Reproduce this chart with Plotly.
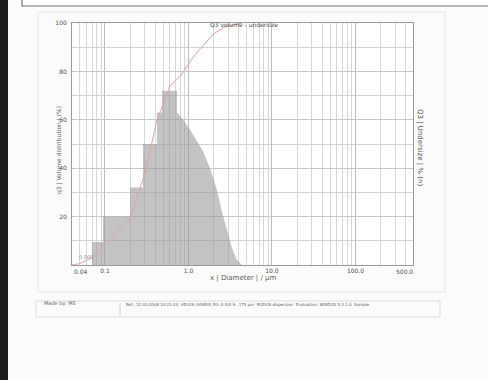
import plotly.graph_objects as go

# ---------------- data ----------------
# density distribution q3 (staircase part): bin edges (µm) and heights (%)
step_edges = [0.0698, 0.0946, 0.1995, 0.285, 0.420, 0.482, 0.728]
step_q3 = [9.5, 20, 32, 50, 63, 72]
# descending flank of the distribution
flank_x = [0.728, 0.859, 1.042, 1.230, 1.492, 1.809, 2.194, 2.519, 2.892, 3.319, 3.809, 4.372]
flank_q3 = [63, 60, 56, 52, 47, 40, 31, 22, 14, 7, 2, 0]
# cumulative undersize Q3
cum_x = [0.04, 0.049, 0.0698, 0.0946, 0.1995, 0.302, 0.42, 0.603, 0.794, 1.202, 1.99, 2.75, 4.37]
cum_Q3 = [0, 0.5, 3, 8, 19, 38, 60, 74, 78, 87, 95.5, 98.5, 100]

x_tickvals = [0.1, 1, 10, 100]
x_ticktext = ["0.1", "1.0", "10.0", "100.0"]
y_tickvals = [0, 20, 40, 60, 80, 100]
y_ticktext = ["", "20", "40", "60", "80", "100"]

# ---------------- layout geometry ----------------
W, H = 488, 380
L, R, T, B = 72, 413, 23, 265


def px(xp):
    return (xp - L) / (R - L)


def py(yp):
    return (B - yp) / (B - T)


fig = go.Figure()

sx = step_edges
sy = step_q3 + [step_q3[-1]]
fig.add_trace(go.Scatter(x=sx, y=sy, mode="lines", line=dict(shape="hv", width=0, color="rgba(0,0,0,0)"),
                         fill="tozeroy", fillcolor="rgba(155,155,155,0.6)", hoverinfo="skip", showlegend=False))
fig.add_trace(go.Scatter(x=flank_x, y=flank_q3, mode="lines", line=dict(width=0, color="rgba(0,0,0,0)"),
                         fill="tozeroy", fillcolor="rgba(155,155,155,0.6)", hoverinfo="skip", showlegend=False))
fig.add_trace(go.Scatter(x=cum_x, y=cum_Q3, mode="lines", line=dict(color="#e3a2a2", width=1),
                         hoverinfo="skip", showlegend=False))

font_small = dict(family="DejaVu Sans", size=6, color="#505050")

fig.update_layout(
    width=W, height=H,
    margin=dict(l=L, r=W - R, t=T, b=H - B, pad=0),
    paper_bgcolor="#fbfbfb", plot_bgcolor="#ffffff",
    xaxis=dict(type="log", range=[-1.395, 2.689], tickvals=x_tickvals, ticktext=x_ticktext,
               showgrid=True, gridcolor="#bdbdbd", gridwidth=1,
               minor=dict(dtick="D1", showgrid=True, gridcolor="#d6d6d6", gridwidth=1),
               tickfont=font_small, ticks="", ticklabelstandoff=0,
               showline=True, linecolor="#9a9a9a", mirror=True, zeroline=False),
    yaxis=dict(range=[0, 100], tickvals=y_tickvals, ticktext=y_ticktext,
               showgrid=True, gridcolor="#c6c6c6", gridwidth=1,
               minor=dict(dtick=10, showgrid=True, gridcolor="#d2d2d2", gridwidth=1),
               tickfont=font_small, ticks="", ticklabelstandoff=3,
               showline=True, linecolor="#9a9a9a", mirror=True, zeroline=False),
)

annotations = [
    dict(x=px(244), y=py(19), text="Q3 volume - undersize", showarrow=False,
         font=dict(family="DejaVu Sans", size=6, color="#505050")),
    dict(x=px(243), y=py(284), text="x | Diameter | / µm", showarrow=False,
         font=dict(family="DejaVu Sans", size=7, color="#606060")),
    dict(x=px(53), y=py(150), text="q3 | Volume distribution | (%)", textangle=-90, showarrow=False,
         font=dict(family="DejaVu Sans", size=6, color="#606060")),
    dict(x=px(426), y=py(147), text="Q3 | Undersize | % (n)", textangle=90, showarrow=False,
         font=dict(family="DejaVu Sans", size=7, color="#505050")),
    dict(x=px(72), y=py(277), text="0.04", showarrow=False, font=font_small),
    dict(x=px(415), y=py(277), text="500.0", showarrow=False, font=font_small),
    dict(x=px(77), y=py(262), text="0.000", showarrow=False, font=dict(family="DejaVu Sans", size=5, color="#8a8a8a")),
    dict(x=px(42), y=py(309), text="Made by: MS", showarrow=False, xanchor="left",
         font=dict(family="DejaVu Sans", size=5, color="#606060")),
    dict(x=px(124), y=py(309),
         text="Ref.: 12.03.2008 10:21:44  HELOS (H0853) R3: 0.5/0.9...175 µm  RODOS dispersion  Evaluation: WINDOX 5.3.1.0  Sample",
         showarrow=False, xanchor="left", font=dict(family="DejaVu Sans", size=4, color="#606060")),
]
for a in annotations:
    a.update(xref="paper", yref="paper")
fig.update_layout(annotations=annotations)

shapes = [
    dict(type="rect", x0=px(0), x1=px(8), y0=py(0), y1=py(380), fillcolor="#1e1e1e",
         line=dict(width=0), layer="above"),
    dict(type="rect", x0=px(22), x1=px(495), y0=py(-10), y1=py(6), fillcolor="#ffffff",
         line=dict(color="#6e6e6e", width=1.2), layer="below"),
    dict(type="rect", x0=px(38), x1=px(445), y0=py(12), y1=py(292), fillcolor="rgba(0,0,0,0)",
         line=dict(color="#e6e6e6", width=1), layer="below"),
    dict(type="rect", x0=px(36), x1=px(440), y0=py(301), y1=py(317), fillcolor="rgba(0,0,0,0)",
         line=dict(color="#dddddd", width=1), layer="below"),
    dict(type="line", x0=px(120), x1=px(120), y0=py(303), y1=py(315),
         line=dict(color="#d0d0d0", width=1), layer="below"),
]
for s in shapes:
    s.update(xref="paper", yref="paper")
fig.update_layout(shapes=shapes)

fig.write_html("out.html", config={"displayModeBar": False},
               post_script="document.body.style.margin='0';document.body.style.padding='0';")
